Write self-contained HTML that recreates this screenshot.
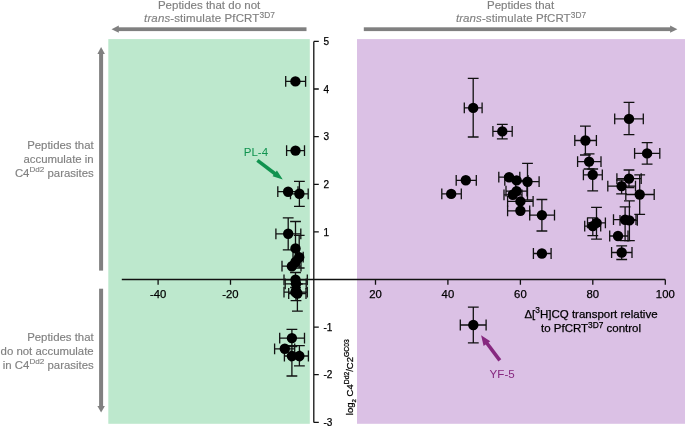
<!DOCTYPE html>
<html><head><meta charset="utf-8"><title>Figure</title>
<style>
html,body{margin:0;padding:0;background:#fff;}
body{width:685px;height:426px;overflow:hidden;}
svg{display:block;font-family:"Liberation Sans",Arial,Helvetica,sans-serif;}
.g{fill:#808080;font-size:11.5px;stroke:#808080;stroke-width:0.15px;}
.k{fill:#000;stroke:#000;stroke-width:0.25px;}
</style></head><body>
<svg width="685" height="426" viewBox="0 0 685 426">
<rect x="0" y="0" width="685" height="426" fill="#fff"/>
<rect x="108.3" y="39.1" width="201.5" height="384.7" fill="#bde8cd"/>
<rect x="357" y="39.1" width="328" height="384.7" fill="#dbc1e5"/>
<!-- gray arrows -->
<g fill="#808080">
<rect x="117" y="27.3" width="189.5" height="3.8"/>
<polygon points="111.5,29.2 118.8,25.6 118.8,32.8"/>
<rect x="363.8" y="27.3" width="308" height="3.8"/>
<polygon points="677.4,29.2 670.1,25.6 670.1,32.8"/>
<rect x="99.1" y="52" width="4" height="218.6"/>
<polygon points="101.1,47 97.4,54 104.9,54"/>
<rect x="99.1" y="288.7" width="4" height="119"/>
<polygon points="101.1,412.4 97.4,405.9 104.9,405.9"/>
</g>
<!-- headers -->
<g class="g" text-anchor="middle">
<text x="209.1" y="8.5">Peptides that do not</text>
<text x="209.5" y="22.1" textLength="130.8"><tspan font-style="italic">trans</tspan>-stimulate PfCRT<tspan font-size="8.3px" dy="-4.6">3D7</tspan></text>
<text x="520.6" y="8.5">Peptides that</text>
<text x="521" y="22.1" textLength="130.2"><tspan font-style="italic">trans</tspan>-stimulate PfCRT<tspan font-size="8.3px" dy="-4.6">3D7</tspan></text>
</g>
<g class="g" text-anchor="end" style="font-size:11.4px">
<text x="93.7" y="148.8">Peptides that</text>
<text x="93.7" y="162.8">accumulate in</text>
<text x="93.7" y="176.8">C4<tspan font-size="8.1px" dy="-5.2">Dd2</tspan><tspan dy="5.2"> parasites</tspan></text>
<text x="93.7" y="340.9">Peptides that</text>
<text x="93.7" y="354.8">do not accumulate</text>
<text x="93.7" y="368.7">in C4<tspan font-size="8.1px" dy="-5.2">Dd2</tspan><tspan dy="5.2"> parasites</tspan></text>
</g>
<!-- axes -->
<path d="M121.8 279.5H665.3M158.1 279.5V284.8M230.5 279.5V284.8M375.5 279.5V284.8M447.9 279.5V284.8M520.4 279.5V284.8M592.8 279.5V284.8M665.3 279.5V284.8M313.8 41.4V422.4M313.8 41.4H318.8M313.8 89.0H318.8M313.8 136.6H318.8M313.8 184.3H318.8M313.8 231.9H318.8M313.8 327.1H318.8M313.8 374.7H318.8M313.8 422.4H318.8" stroke="#111" stroke-width="1.3" fill="none"/>
<g class="k" font-size="11.3px"><text x="158.1" y="298.3" text-anchor="middle">-40</text><text x="230.5" y="298.3" text-anchor="middle">-20</text><text x="375.5" y="298.3" text-anchor="middle">20</text><text x="447.9" y="298.3" text-anchor="middle">40</text><text x="520.4" y="298.3" text-anchor="middle">60</text><text x="592.8" y="298.3" text-anchor="middle">80</text><text x="665.3" y="298.3" text-anchor="middle">100</text></g>
<g class="k" font-size="10px"><text x="323.5" y="45.0">5</text><text x="323.5" y="92.6">4</text><text x="323.5" y="140.2">3</text><text x="323.5" y="187.9">2</text><text x="323.5" y="235.5">1</text><text x="323.5" y="330.7">-1</text><text x="323.5" y="378.3">-2</text><text x="323.5" y="426.0">-3</text></g>
<g class="k" font-size="11.5px" text-anchor="middle">
<text x="591" y="318">Δ[<tspan font-size="8.3px" dy="-4.6">3</tspan><tspan dy="4.6">H]CQ transport relative</tspan></text>
<text x="591" y="332.1">to PfCRT<tspan font-size="8.3px" dy="-4.6">3D7</tspan><tspan dy="4.6"> control</tspan></text>
</g>
<text class="k" font-size="9.5px" transform="translate(352.6,415.2) rotate(-90)">log<tspan font-size="6.2px" dy="3">2</tspan><tspan dy="-3"> C4</tspan><tspan font-size="6.8px" dy="-3.6">Dd2</tspan><tspan dy="3.6">/C2</tspan><tspan font-size="6.8px" dy="-3.6">GC03</tspan></text>
<!-- annotations -->
<text x="243.8" y="156.3" font-size="11.5px" fill="#10934f">PL-4</text>
<g fill="#10934f" stroke="none">
<path d="M257.4 160.4 L277 175.2" stroke="#10934f" stroke-width="3.6" fill="none"/>
<polygon points="282.8,179.6 272.6,176.2 276.9,170.6"/>
</g>
<text x="489.6" y="377.8" font-size="11.6px" fill="#86287f">YF-5</text>
<g fill="#86287f">
<path d="M499.8 360.3 L484.5 340" stroke="#86287f" stroke-width="3.6" fill="none"/>
<polygon points="481.1,335.3 490.3,341.2 483.6,346.1"/>
</g>
<!-- data -->
<g stroke="#111" stroke-width="1.3" fill="none">
<path d="M464.3 107.9H482.1M464.3 102.5V113.3M482.1 102.5V113.3M473.2 78.3V137.0M467.8 78.3H478.6M467.8 137.0H478.6"/>
<path d="M492.9 131.4H512.2M492.9 126.0V136.8M512.2 126.0V136.8M502.3 124.3V138.9M496.9 124.3H507.7M496.9 138.9H507.7"/>
<path d="M456.2 180.3H476.3M456.2 174.9V185.7M476.3 174.9V185.7"/>
<path d="M441.8 193.9H461.3M441.8 188.5V199.3M461.3 188.5V199.3"/>
<path d="M498.8 177.2H519.8M498.8 171.8V182.6M519.8 171.8V182.6"/>
<path d="M504.8 180.4H528.0M504.8 175.0V185.8M528.0 175.0V185.8"/>
<path d="M515.7 181.7H539.1M515.7 176.3V187.1M539.1 176.3V187.1M527.5 163.3V200.0M522.1 163.3H532.9M522.1 200.0H532.9"/>
<path d="M506.0 191.1H527.0M506.0 185.7V196.5M527.0 185.7V196.5"/>
<path d="M504.0 194.8H522.0M504.0 189.4V200.2M522.0 189.4V200.2"/>
<path d="M507.6 201.4H533.1M507.6 196.0V206.8M533.1 196.0V206.8"/>
<path d="M507.6 210.8H529.7M507.6 205.4V216.2M529.7 205.4V216.2"/>
<path d="M529.7 215.1H554.5M529.7 209.7V220.5M554.5 209.7V220.5M541.9 199.5V231.0M536.5 199.5H547.3M536.5 231.0H547.3"/>
<path d="M614.7 118.9H643.3M614.7 113.5V124.3M643.3 113.5V124.3M629.0 102.4V134.6M623.6 102.4H634.4M623.6 134.6H634.4"/>
<path d="M574.8 140.5H596.4M574.8 135.1V145.9M596.4 135.1V145.9M585.4 126.2V155.0M580.0 126.2H590.8M580.0 155.0H590.8"/>
<path d="M634.6 153.4H659.8M634.6 148.0V158.8M659.8 148.0V158.8M647.1 142.6V164.2M641.7 142.6H652.5M641.7 164.2H652.5"/>
<path d="M577.6 161.6H601.0M577.6 156.2V167.0M601.0 156.2V167.0M589.1 153.8V169.0M583.7 153.8H594.5M583.7 169.0H594.5"/>
<path d="M583.4 174.8H602.3M583.4 169.4V180.2M602.3 169.4V180.2M592.7 169.0V190.8M587.3 169.0H598.1M587.3 190.8H598.1"/>
<path d="M616.9 178.6H641.2M616.9 173.2V184.0M641.2 173.2V184.0M629.0 170.0V187.5M623.6 170.0H634.4M623.6 187.5H634.4"/>
<path d="M607.8 186.1H635.5M607.8 180.7V191.5M635.5 180.7V191.5M621.6 180.0V193.8M616.2 180.0H627.0M616.2 193.8H627.0"/>
<path d="M625.8 194.5H654.2M625.8 189.1V199.9M654.2 189.1V199.9M639.7 174.8V214.4M634.3 174.8H645.1M634.3 214.4H645.1"/>
<path d="M587.5 222.9H605.4M587.5 217.5V228.3M605.4 217.5V228.3M596.5 207.3V239.2M591.1 207.3H601.9M591.1 239.2H601.9"/>
<path d="M584.7 226.1H600.7M584.7 220.7V231.5M600.7 220.7V231.5M592.8 217.8V235.6M587.4 217.8H598.2M587.4 235.6H598.2"/>
<path d="M613.5 219.7H636.0M613.5 214.3V225.1M636.0 214.3V225.1M625.1 206.9V240.7M619.7 206.9H630.5M619.7 240.7H630.5"/>
<path d="M620.0 220.4H637.3M620.0 215.0V225.8M637.3 215.0V225.8M629.4 200.9V240.7M624.0 200.9H634.8M624.0 240.7H634.8"/>
<path d="M609.7 236.0H628.0M609.7 230.6V241.4M628.0 230.6V241.4"/>
<path d="M611.6 252.5H632.0M611.6 247.1V257.9M632.0 247.1V257.9M621.7 245.8V259.5M616.3 245.8H627.1M616.3 259.5H627.1"/>
<path d="M533.4 253.5H551.1M533.4 248.1V258.9M551.1 248.1V258.9"/>
<path d="M460.3 325.0H486.1M460.3 319.6V330.4M486.1 319.6V330.4M473.3 307.1V342.8M467.9 307.1H478.7M467.9 342.8H478.7"/>
<path d="M285.7 81.4H305.6M285.7 76.0V86.8M305.6 76.0V86.8"/>
<path d="M286.6 150.6H304.5M286.6 145.2V156.0M304.5 145.2V156.0"/>
<path d="M277.8 191.7H298.0M277.8 186.3V197.1M298.0 186.3V197.1"/>
<path d="M290.5 193.8H308.2M290.5 188.4V199.2M308.2 188.4V199.2M299.4 181.4V206.4M294.0 181.4H304.8M294.0 206.4H304.8"/>
<path d="M275.9 233.8H300.8M275.9 228.4V239.2M300.8 228.4V239.2M288.2 217.9V249.9M282.8 217.9H293.6M282.8 249.9H293.6"/>
<path d="M295.5 221.5V262.0M290.1 221.5H300.9M290.1 262.0H300.9"/>
<path d="M293.0 257.2H303.2M293.0 251.8V262.6M303.2 251.8V262.6M299.2 235.3V268.0M293.8 235.3H304.6M293.8 268.0H304.6"/>
<path d=""/>
<path d="M282.0 266.2H301.0M282.0 260.8V271.6M301.0 260.8V271.6"/>
<path d="M284.0 279.8H307.3M284.0 274.4V285.2M307.3 274.4V285.2M295.5 272.5V287.5M290.1 272.5H300.9M290.1 287.5H300.9"/>
<path d="M285.2 283.8H306.2M285.2 278.4V289.2M306.2 278.4V289.2"/>
<path d="M284.0 292.2H307.3M284.0 286.8V297.6M307.3 286.8V297.6"/>
<path d="M288.7 293.5H306.0M288.7 288.1V298.9M306.0 288.1V298.9M297.4 284.0V311.1M292.0 284.0H302.8M292.0 311.1H302.8"/>
<path d="M296.0 284.0V300.7M290.6 284.0H301.4M290.6 300.7H301.4"/>
<path d="M279.7 338.1H304.5M279.7 332.7V343.5M304.5 332.7V343.5M291.9 329.3V346.6M286.5 329.3H297.3M286.5 346.6H297.3"/>
<path d="M274.6 348.8H294.7M274.6 343.4V354.2M294.7 343.4V354.2"/>
<path d="M284.4 356.0H300.0M284.4 350.6V361.4M300.0 350.6V361.4M291.9 345.6V376.0M286.5 345.6H297.3M286.5 376.0H297.3"/>
<path d="M291.0 356.0H308.4M291.0 350.6V361.4M308.4 350.6V361.4M299.4 345.6V365.9M294.0 345.6H304.8M294.0 365.9H304.8"/>
</g>
<g fill="#000">
<circle cx="473.2" cy="107.9" r="5.2"/>
<circle cx="502.3" cy="131.4" r="5.2"/>
<circle cx="465.8" cy="180.3" r="5.2"/>
<circle cx="451.2" cy="193.9" r="5.2"/>
<circle cx="509.1" cy="177.2" r="5.2"/>
<circle cx="516.6" cy="180.4" r="5.2"/>
<circle cx="527.5" cy="181.7" r="5.2"/>
<circle cx="516.6" cy="191.1" r="5.2"/>
<circle cx="512.8" cy="194.8" r="5.2"/>
<circle cx="520.4" cy="201.4" r="5.2"/>
<circle cx="520.4" cy="210.8" r="5.2"/>
<circle cx="541.9" cy="215.1" r="5.2"/>
<circle cx="629.0" cy="118.9" r="5.2"/>
<circle cx="585.4" cy="140.5" r="5.2"/>
<circle cx="647.1" cy="153.4" r="5.2"/>
<circle cx="589.1" cy="161.6" r="5.2"/>
<circle cx="592.7" cy="174.8" r="5.2"/>
<circle cx="629.0" cy="178.6" r="5.2"/>
<circle cx="621.6" cy="186.1" r="5.2"/>
<circle cx="639.7" cy="194.5" r="5.2"/>
<circle cx="596.5" cy="222.9" r="5.2"/>
<circle cx="592.8" cy="226.1" r="5.2"/>
<circle cx="625.1" cy="219.7" r="5.2"/>
<circle cx="629.4" cy="220.4" r="5.2"/>
<circle cx="618.0" cy="236.0" r="5.2"/>
<circle cx="621.7" cy="252.5" r="5.2"/>
<circle cx="541.9" cy="253.5" r="5.2"/>
<circle cx="473.3" cy="325.0" r="5.2"/>
<circle cx="295.4" cy="81.4" r="5.2"/>
<circle cx="295.5" cy="150.6" r="5.2"/>
<circle cx="288.1" cy="191.7" r="5.2"/>
<circle cx="299.4" cy="193.8" r="5.2"/>
<circle cx="288.2" cy="233.8" r="5.2"/>
<circle cx="295.5" cy="248.4" r="5.2"/>
<circle cx="299.2" cy="257.2" r="5.2"/>
<circle cx="295.5" cy="262.0" r="5.2"/>
<circle cx="291.9" cy="266.2" r="5.2"/>
<circle cx="295.5" cy="279.8" r="5.2"/>
<circle cx="296.0" cy="283.8" r="5.2"/>
<circle cx="295.5" cy="292.2" r="5.2"/>
<circle cx="297.4" cy="293.5" r="5.2"/>
<circle cx="296.0" cy="291.0" r="5.2"/>
<circle cx="291.9" cy="338.1" r="5.2"/>
<circle cx="284.8" cy="348.8" r="5.2"/>
<circle cx="291.9" cy="356.0" r="5.2"/>
<circle cx="299.4" cy="356.0" r="5.2"/>
</g>
</svg>
</body></html>
